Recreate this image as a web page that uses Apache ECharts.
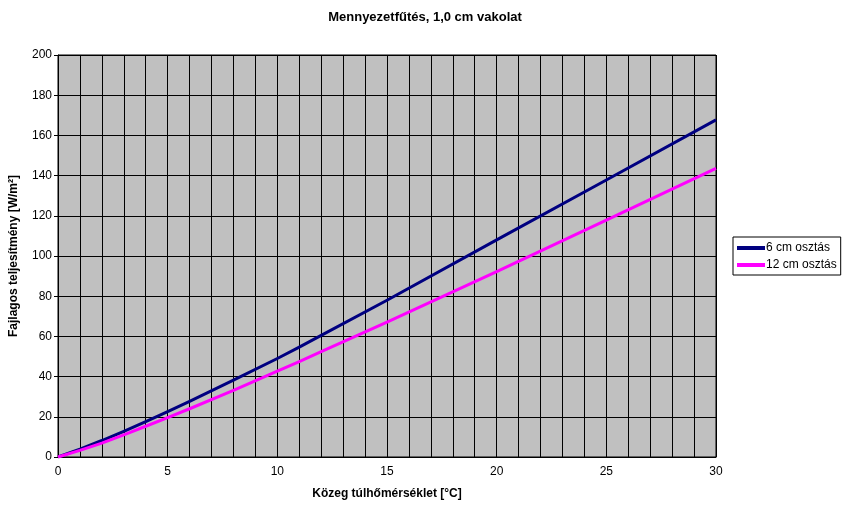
<!DOCTYPE html>
<html><head><meta charset="utf-8">
<script src="https://cdn.jsdelivr.net/npm/echarts@6/dist/echarts.min.js"></script>
<style>html,body{margin:0;padding:0;background:#fff}#c{width:845px;height:507px}</style>
</head><body><div id="c"></div>
<script>
const xValues = [0, 1, 2, 3, 4, 5, 6, 8, 10, 11, 12, 15, 20, 25, 30];
const series6cm = [0, 3.9, 8.2, 12.8, 17.6, 22.6, 27.7, 38.2, 49, 54.7, 60.5, 78, 108, 137.8, 167.7];
const series12cm = [0, 3.3, 6.9, 11, 15.3, 19.6, 24, 33.2, 42.7, 47.5, 52.4, 67.1, 92.2, 117.9, 143.6];
const seriesNames = ['6 cm osztás', '12 cm osztás'];
const titleText = 'Mennyezetfűtés, 1,0 cm vakolat';
const xName = 'Közeg túlhőmérséklet [°C]';
const yName = 'Fajlagos teljesítmény [W/m²]';

const font = 'Liberation Sans, Arial, sans-serif';
const chart = echarts.init(document.getElementById('c'), null, {renderer: 'canvas'});
chart.setOption({
  animation: false,
  backgroundColor: '#fff',
  title: {text: titleText, left: 420, top: 6, textAlign: 'center',
    textStyle: {fontFamily: font, fontSize: 13, fontWeight: 'bold', color: '#000'}},
  grid: {left: 58, top: 55, width: 658, height: 402, show: true,
    backgroundColor: '#C0C0C0', borderColor: '#000', borderWidth: 1},
  legend: {
    orient: 'vertical', left: 733, top: 237, itemWidth: 28, itemHeight: 4, itemGap: 5,
    padding: [5, 4, 4, 4], borderColor: '#000', borderWidth: 1, backgroundColor: '#fff',
    textStyle: {fontFamily: font, fontSize: 12, color: '#000', padding: [0, 0, 0, -4]},
    icon: 'rect', data: seriesNames
  },
  xAxis: {
    type: 'value', min: 0, max: 30, interval: 1,
    name: xName, nameLocation: 'middle', nameGap: 31,
    nameTextStyle: {fontFamily: font, fontSize: 12, fontWeight: 'bold', color: '#000'},
    axisLine: {lineStyle: {color: '#000'}},
    axisTick: {show: false},
    axisLabel: {fontFamily: font, fontSize: 12, color: '#000', margin: 9,
      formatter: v => (v % 5 === 0 ? String(v) : '')},
    splitLine: {show: true, lineStyle: {color: '#000', width: 1}}
  },
  yAxis: {
    type: 'value', min: 0, max: 200, interval: 20,
    name: yName, nameLocation: 'middle', nameGap: 38,
    nameTextStyle: {fontFamily: font, fontSize: 12, fontWeight: 'bold', color: '#000'},
    axisLine: {show: true, lineStyle: {color: '#000'}},
    axisTick: {show: true, length: 4, lineStyle: {color: '#000'}},
    axisLabel: {fontFamily: font, fontSize: 12, color: '#000', margin: 6},
    splitLine: {show: true, lineStyle: {color: '#000', width: 1}}
  },
  series: [
    {name: seriesNames[0], type: 'line', showSymbol: false, smooth: false,
      data: xValues.map((x, i) => [x, series6cm[i]]),
      lineStyle: {color: '#000080', width: 3, join: 'round'}, itemStyle: {color: '#000080'}},
    {name: seriesNames[1], type: 'line', showSymbol: false, smooth: false,
      data: xValues.map((x, i) => [x, series12cm[i]]),
      lineStyle: {color: '#FF00FF', width: 3, join: 'round'}, itemStyle: {color: '#FF00FF'}}
  ]
});
</script></body></html>
